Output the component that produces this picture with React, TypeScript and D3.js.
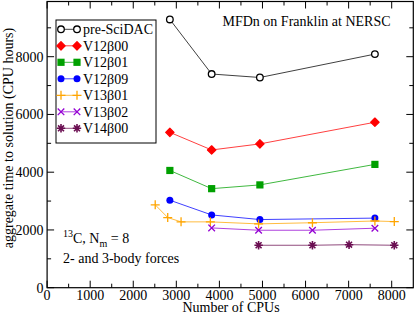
import React from "react";
import * as d3 from "d3";

const seriesNames = ["pre-SciDAC", "V12β00", "V12β01", "V12β09", "V13β01", "V13β02", "V14β00"];
const seriesColors = ["#000000", "#ff0000", "#00a000", "#0000ff", "#ffa500", "#9400d3", "#6b0f52"];
const seriesMarkers = ["circle", "diamond", "square", "dot", "plus", "cross", "star"];

const preSciDAC: [number, number][] = [[2850, 9290], [3820, 7400], [4940, 7280], [7610, 8090]];
const v12b00: [number, number][] = [[2850, 5380], [3820, 4770], [4940, 4980], [7610, 5730]];
const v12b01: [number, number][] = [[2850, 4060], [3820, 3430], [4940, 3560], [7610, 4270]];
const v12b09: [number, number][] = [[2850, 3030], [3820, 2520], [4940, 2360], [7610, 2410]];
const v13b01: [number, number][] = [[2510, 2870], [2800, 2430], [3110, 2280], [3790, 2280], [4910, 2210], [6160, 2250], [7610, 2310], [8060, 2290]];
const v13b02: [number, number][] = [[3820, 2070], [4910, 1990], [6160, 1990], [7610, 2060]];
const v14b00: [number, number][] = [[4910, 1470], [6160, 1470], [7010, 1490], [8060, 1470]];
const seriesData = [preSciDAC, v12b00, v12b01, v12b09, v13b01, v13b02, v14b00];

const xTicks = [0, 1000, 2000, 3000, 4000, 5000, 6000, 7000, 8000];
const yTicks = [0, 2000, 4000, 6000, 8000];

const FONT = "'Liberation Serif', 'Times New Roman', serif";

function Marker({ type, x, y, color }: { type: string; x: number; y: number; color: string }) {
  const s = 3.6;
  switch (type) {
    case "circle":
      return <circle cx={x} cy={y} r={3.3} fill="white" stroke={color} strokeWidth={1.3} />;
    case "diamond":
      return <path d={`M${x},${y - 4.2}L${x + 4.2},${y}L${x},${y + 4.2}L${x - 4.2},${y}Z`} fill={color} stroke={color} strokeWidth={1.2} strokeLinejoin="round" />;
    case "square":
      return <rect x={x - s} y={y - s} width={2 * s} height={2 * s} fill={color} />;
    case "dot":
      return <circle cx={x} cy={y} r={3.5} fill={color} />;
    case "plus":
      return <path d={`M${x - 4.5},${y}H${x + 4.5}M${x},${y - 4.5}V${y + 4.5}`} stroke={color} strokeWidth={1.3} />;
    case "cross":
      return <path d={`M${x - 3.3},${y - 3.3}L${x + 3.3},${y + 3.3}M${x - 3.3},${y + 3.3}L${x + 3.3},${y - 3.3}`} stroke={color} strokeWidth={1.3} />;
    case "star": {
      const r = 4.2;
      let d = "";
      for (let i = 0; i < 4; i++) {
        const a = (i * Math.PI) / 4;
        d += `M${x - r * Math.cos(a)},${y - r * Math.sin(a)}L${x + r * Math.cos(a)},${y + r * Math.sin(a)}`;
      }
      return <path d={d} stroke={color} strokeWidth={1.6} />;
    }
  }
  return null;
}

export default function App() {
  const W = 414, H = 316;
  const x = d3.scaleLinear().domain([0, 8000]).range([47.1, 391.7]);
  const y = d3.scaleLinear().domain([0, 8000]).range([287.7, 56.7]);
  const left = x(0), right = 413.3, bottom = y(0), top = 1.5;
  const line = d3.line<[number, number]>().x((d) => x(d[0])).y((d) => y(d[1]));
  const xMinor = d3.range(500, 8500, 1000);
  const yMinor = d3.range(1000, 10000, 2000);

  const legendRowY = (i: number) => 29.3 + i * 16.5;

  return (
    <svg width={W} height={H} style={{ position: "absolute", left: 0, top: 0, background: "white" }} fontFamily={FONT}>
      <rect x={0} y={0} width={W} height={H} fill="white" />
      {/* series */}
      {seriesData.map((data, i) => (
        <g key={i}>
          <path d={line(data) || ""} fill="none" stroke={seriesColors[i]} strokeWidth={1} strokeOpacity={0.75} />
          {data.map((d, j) => (
            <Marker key={j} type={seriesMarkers[i]} x={x(d[0])} y={y(d[1])} color={seriesColors[i]} />
          ))}
        </g>
      ))}
      {/* frame */}
      <rect x={left} y={top} width={right - left} height={bottom - top} fill="none" stroke="#000" strokeWidth={1.2} />
      {/* x ticks */}
      {xTicks.map((t) => (
        <g key={"x" + t}>
          <line x1={x(t)} x2={x(t)} y1={bottom} y2={bottom - 7} stroke="#000" />
          <line x1={x(t)} x2={x(t)} y1={top} y2={top + 7} stroke="#000" />
          <text x={x(t)} y={300} fontSize={14} textAnchor="middle">{t}</text>
        </g>
      ))}
      {xMinor.map((t) => (
        <g key={"xm" + t}>
          <line x1={x(t)} x2={x(t)} y1={bottom} y2={bottom - 4} stroke="#000" />
          <line x1={x(t)} x2={x(t)} y1={top} y2={top + 4} stroke="#000" />
        </g>
      ))}
      {/* y ticks */}
      {yTicks.map((t) => (
        <g key={"y" + t}>
          <line x1={left} x2={left + 7} y1={y(t)} y2={y(t)} stroke="#000" />
          <line x1={right} x2={right - 7} y1={y(t)} y2={y(t)} stroke="#000" />
          <text x={43.5} y={y(t) + 5} fontSize={14} textAnchor="end">{t}</text>
        </g>
      ))}
      {yMinor.map((t) => (
        <g key={"ym" + t}>
          <line x1={left} x2={left + 4} y1={y(t)} y2={y(t)} stroke="#000" />
          <line x1={right} x2={right - 4} y1={y(t)} y2={y(t)} stroke="#000" />
        </g>
      ))}
      {/* axis titles */}
      <text x={231} y={312} fontSize={14} textAnchor="middle">Number of CPUs</text>
      <text transform={`translate(12.5,138) rotate(-90)`} fontSize={14} textAnchor="middle">aggregate time to solution (CPU hours)</text>
      {/* legend */}
      <rect x={56} y={20} width={100} height={123} fill="white" stroke="#000" strokeWidth={1} />
      {seriesNames.map((n, i) => (
        <g key={"l" + i}>
          <line x1={61} x2={77} y1={legendRowY(i)} y2={legendRowY(i)} stroke={seriesColors[i]} strokeOpacity={0.75} />
          <Marker type={seriesMarkers[i]} x={61} y={legendRowY(i)} color={seriesColors[i]} />
          <Marker type={seriesMarkers[i]} x={77} y={legendRowY(i)} color={seriesColors[i]} />
          <text x={83} y={legendRowY(i) + 5} fontSize={14}>{n}</text>
        </g>
      ))}
      {/* annotations */}
      <text x={222.5} y={26} fontSize={14}>MFDn on Franklin at NERSC</text>
      <text x={63} y={243} fontSize={14}>
        <tspan fontSize={10} dy={-6}>13</tspan>
        <tspan dy={6}>C, N</tspan>
        <tspan fontSize={10} dy={4}>m</tspan>
        <tspan dy={-4}> = 8</tspan>
      </text>
      <text x={63} y={263} fontSize={14}>2- and 3-body forces</text>
    </svg>
  );
}
